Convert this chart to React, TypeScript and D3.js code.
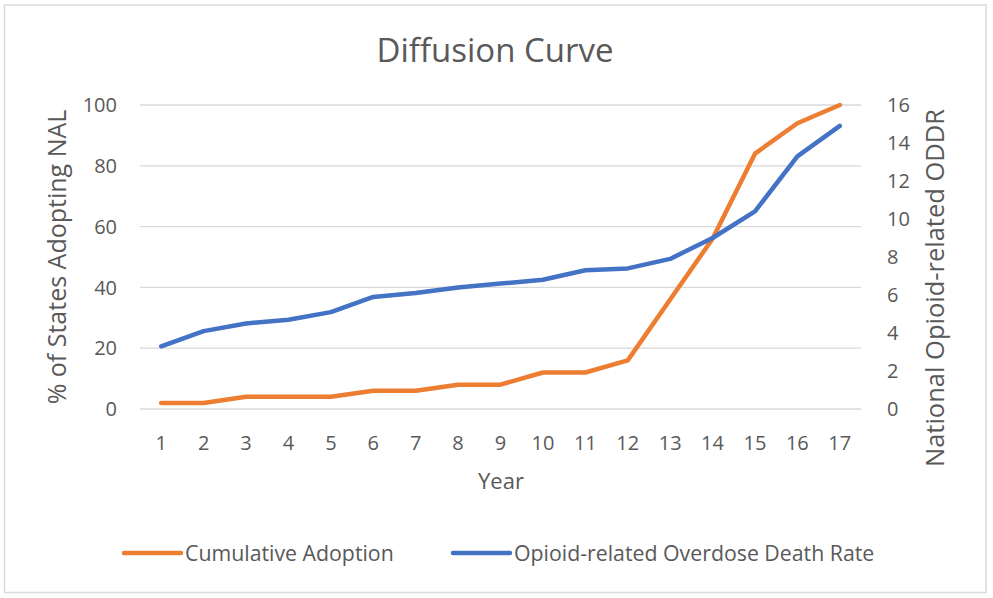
import React from "react";
import * as d3 from "d3";

const years = ["1","2","3","4","5","6","7","8","9","10","11","12","13","14","15","16","17"];
const adoption = [2,2,4,4,4,6,6,8,8,12,12,16,36,56,84,94,100];
const deathRate = [3.3,4.1,4.5,4.7,5.1,5.9,6.1,6.4,6.6,6.8,7.3,7.4,7.9,9.0,10.4,13.3,14.9];
const leftTicks = [0,20,40,60,80,100];
const rightTicks = [0,2,4,6,8,10,12,14,16];

const W = 993, H = 598;
const FONT = "'Open Sans', 'Noto Sans', sans-serif";
const TEXT = "#595959";
const GRID = "#d9d9d9";
const ORANGE = "#ED7D31";
const BLUE = "#4472C4";

export default function App() {
  const x = d3.scaleBand<string>().domain(years).range([140, 861]);
  const yL = d3.scaleLinear().domain([0, 100]).range([409, 105]);
  const yR = d3.scaleLinear().domain([0, 16]).range([409, 105]);
  const cx = (d: string) => (x(d) as number) + x.bandwidth() / 2;

  const lineL = d3.line<number>().x((_, i) => cx(years[i])).y((v) => yL(v));
  const lineR = d3.line<number>().x((_, i) => cx(years[i])).y((v) => yR(v));

  return (
    <div style={{ position: "fixed", left: 0, top: 0 }}>
      <svg width={W} height={H} style={{ display: "block", background: "#fff" }} fontFamily={FONT}>
        <rect x={0} y={0} width={W} height={H} fill="#fff" />
        <rect x={4.5} y={5} width={981.5} height={587.5} fill="none" stroke={GRID} strokeWidth={1.5} />
        <text x={495} y={62} textAnchor="middle" fontSize={33} fill={TEXT}>Diffusion Curve</text>

        {leftTicks.map((t) => (
          <line key={"g" + t} x1={140} x2={861} y1={yL(t)} y2={yL(t)} stroke={GRID} strokeWidth={1.3} />
        ))}
        {leftTicks.map((t) => (
          <text key={"l" + t} x={117} y={yL(t)} dy="0.36em" textAnchor="end" fontSize={20} fill={TEXT}>{t}</text>
        ))}
        {rightTicks.map((t) => (
          <text key={"r" + t} x={887} y={yR(t)} dy="0.36em" textAnchor="start" fontSize={20} fill={TEXT}>{t}</text>
        ))}
        {years.map((yv) => (
          <text key={"x" + yv} x={cx(yv)} y={449.5} textAnchor="middle" fontSize={20} fill={TEXT}>{yv}</text>
        ))}

        <text x={501} y={489} textAnchor="middle" fontSize={22} fill={TEXT}>Year</text>
        <text transform="translate(66,257) rotate(-90)" textAnchor="middle" fontSize={25} fill={TEXT}>% of States Adopting NAL</text>
        <text transform="translate(944,288) rotate(-90)" textAnchor="middle" fontSize={25.5} fill={TEXT}>National Opioid-related ODDR</text>

        <path d={lineL(adoption) as string} fill="none" stroke={ORANGE} strokeWidth={4.5} strokeLinejoin="round" strokeLinecap="round" />
        <path d={lineR(deathRate) as string} fill="none" stroke={BLUE} strokeWidth={4.5} strokeLinejoin="round" strokeLinecap="round" />

        <line x1={124} x2={181} y1={553} y2={553} stroke={ORANGE} strokeWidth={4.5} strokeLinecap="round" />
        <text x={185} y={560.5} fontSize={21.3} fill={TEXT}>Cumulative Adoption</text>
        <line x1={453} x2={510} y1={553} y2={553} stroke={BLUE} strokeWidth={4.5} strokeLinecap="round" />
        <text x={514} y={560.5} fontSize={21.3} fill={TEXT}>Opioid-related Overdose Death Rate</text>
      </svg>
    </div>
  );
}
